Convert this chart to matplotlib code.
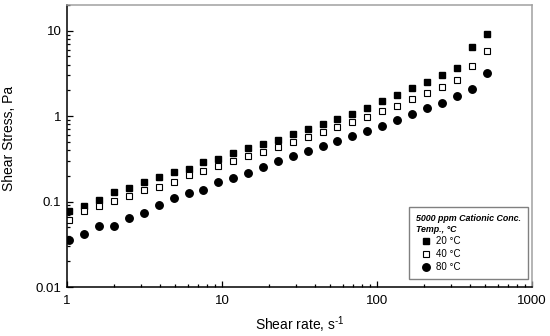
import numpy as np
import matplotlib.pyplot as plt
from matplotlib.ticker import LogLocator, FuncFormatter, NullFormatter

plt.rcParams['font.family'] = ['Liberation Sans', 'DejaVu Sans']
plt.rcParams['mathtext.fontset'] = 'custom'
plt.rcParams['mathtext.rm'] = 'Liberation Sans'

# shear rate, 1/s
shear_rate = [1.03, 1.29, 1.61, 2.01, 2.51, 3.13, 3.91, 4.88, 6.08, 7.59,
              9.47, 11.8, 14.7, 18.4, 23.0, 28.6, 35.7, 44.6, 55.6, 69.4,
              86.6, 108, 135, 168, 210, 262, 327, 408, 509]

# shear stress, Pa
stress_20 = [0.078, 0.089, 0.103, 0.129, 0.145, 0.171, 0.194, 0.220, 0.242, 0.288,
             0.314, 0.369, 0.419, 0.474, 0.528, 0.611, 0.699, 0.80, 0.923, 1.07,
             1.26, 1.51, 1.78, 2.13, 2.52, 3.02, 3.67, 6.53, 9.18]
stress_40 = [0.0608, 0.0774, 0.0886, 0.101, 0.117, 0.136, 0.148, 0.169, 0.204, 0.229,
             0.260, 0.295, 0.338, 0.383, 0.438, 0.492, 0.564, 0.644, 0.738, 0.851,
             0.98, 1.135, 1.33, 1.59, 1.86, 2.22, 2.68, 3.85, 5.86]
stress_80 = [0.0357, 0.0417, 0.0521, 0.0521, 0.0637, 0.0728, 0.0903, 0.110, 0.126, 0.137,
             0.171, 0.190, 0.217, 0.253, 0.295, 0.338, 0.386, 0.442, 0.506, 0.583,
             0.668, 0.770, 0.898, 1.05, 1.23, 1.43, 1.70, 2.07, 3.24]

fig = plt.figure(figsize=(5.5, 3.36), dpi=100)
ax = fig.add_axes([67/550, 1-287/336, (532-67)/550, (287-5)/336])

ax.plot(shear_rate, stress_20, ls='none', marker='s', ms=4.6, mfc='black', mec='black', label='20 °C')
ax.plot(shear_rate, stress_40, ls='none', marker='s', ms=4.6, mfc='white', mec='black', mew=0.8, label='40 °C')
ax.plot(shear_rate, stress_80, ls='none', marker='o', ms=5.4, mfc='black', mec='black', label='80 °C')

ax.set_xscale('log')
ax.set_yscale('log')
ax.set_xlim(1, 1000)
ax.set_ylim(0.01, 20)

fmt = FuncFormatter(lambda v, p: '%g' % v)
for axis in (ax.xaxis, ax.yaxis):
  axis.set_major_locator(LogLocator(base=10))
  axis.set_minor_locator(LogLocator(base=10, subs=np.arange(2, 10)))
  axis.set_major_formatter(fmt)
  axis.set_minor_formatter(NullFormatter())

ax.tick_params(which='both', direction='in', top=False, right=False, labelsize=9.5, width=0.9)
ax.tick_params(which='major', length=4)
ax.tick_params(which='minor', length=2.5)
ax.tick_params(axis='x', pad=6)
ax.tick_params(axis='y', pad=4)

for s in ['left', 'bottom']:
  ax.spines[s].set_linewidth(1.1)
  ax.spines[s].set_color('black')
for s in ['top', 'right']:
  ax.spines[s].set_linewidth(1.1)
  ax.spines[s].set_color('#a0a0a0')

ax.set_xlabel('Shear rate, s$^{\\text{-1}}$', fontsize=10, va='center')
ax.set_ylabel('Shear Stress, Pa', fontsize=10, va='center')
ax.xaxis.set_label_coords(0.5, -0.132)
ax.yaxis.set_label_coords(-0.124, 0.527)

leg = ax.legend(loc='lower right', bbox_to_anchor=(0.991, 0.028), borderaxespad=0,
                title='5000 ppm Cationic Conc.\nTemp., °C', fontsize=7,
                title_fontproperties={'weight': 'bold', 'style': 'italic', 'size': 6.4},
                fancybox=False, edgecolor='#808080', framealpha=1,
                handletextpad=0.1, labelspacing=0.3, borderpad=0.7, handlelength=2.0)
leg._legend_box.align = 'left'
leg.get_frame().set_linewidth(1.0)

plt.savefig('out.png', dpi=100)
